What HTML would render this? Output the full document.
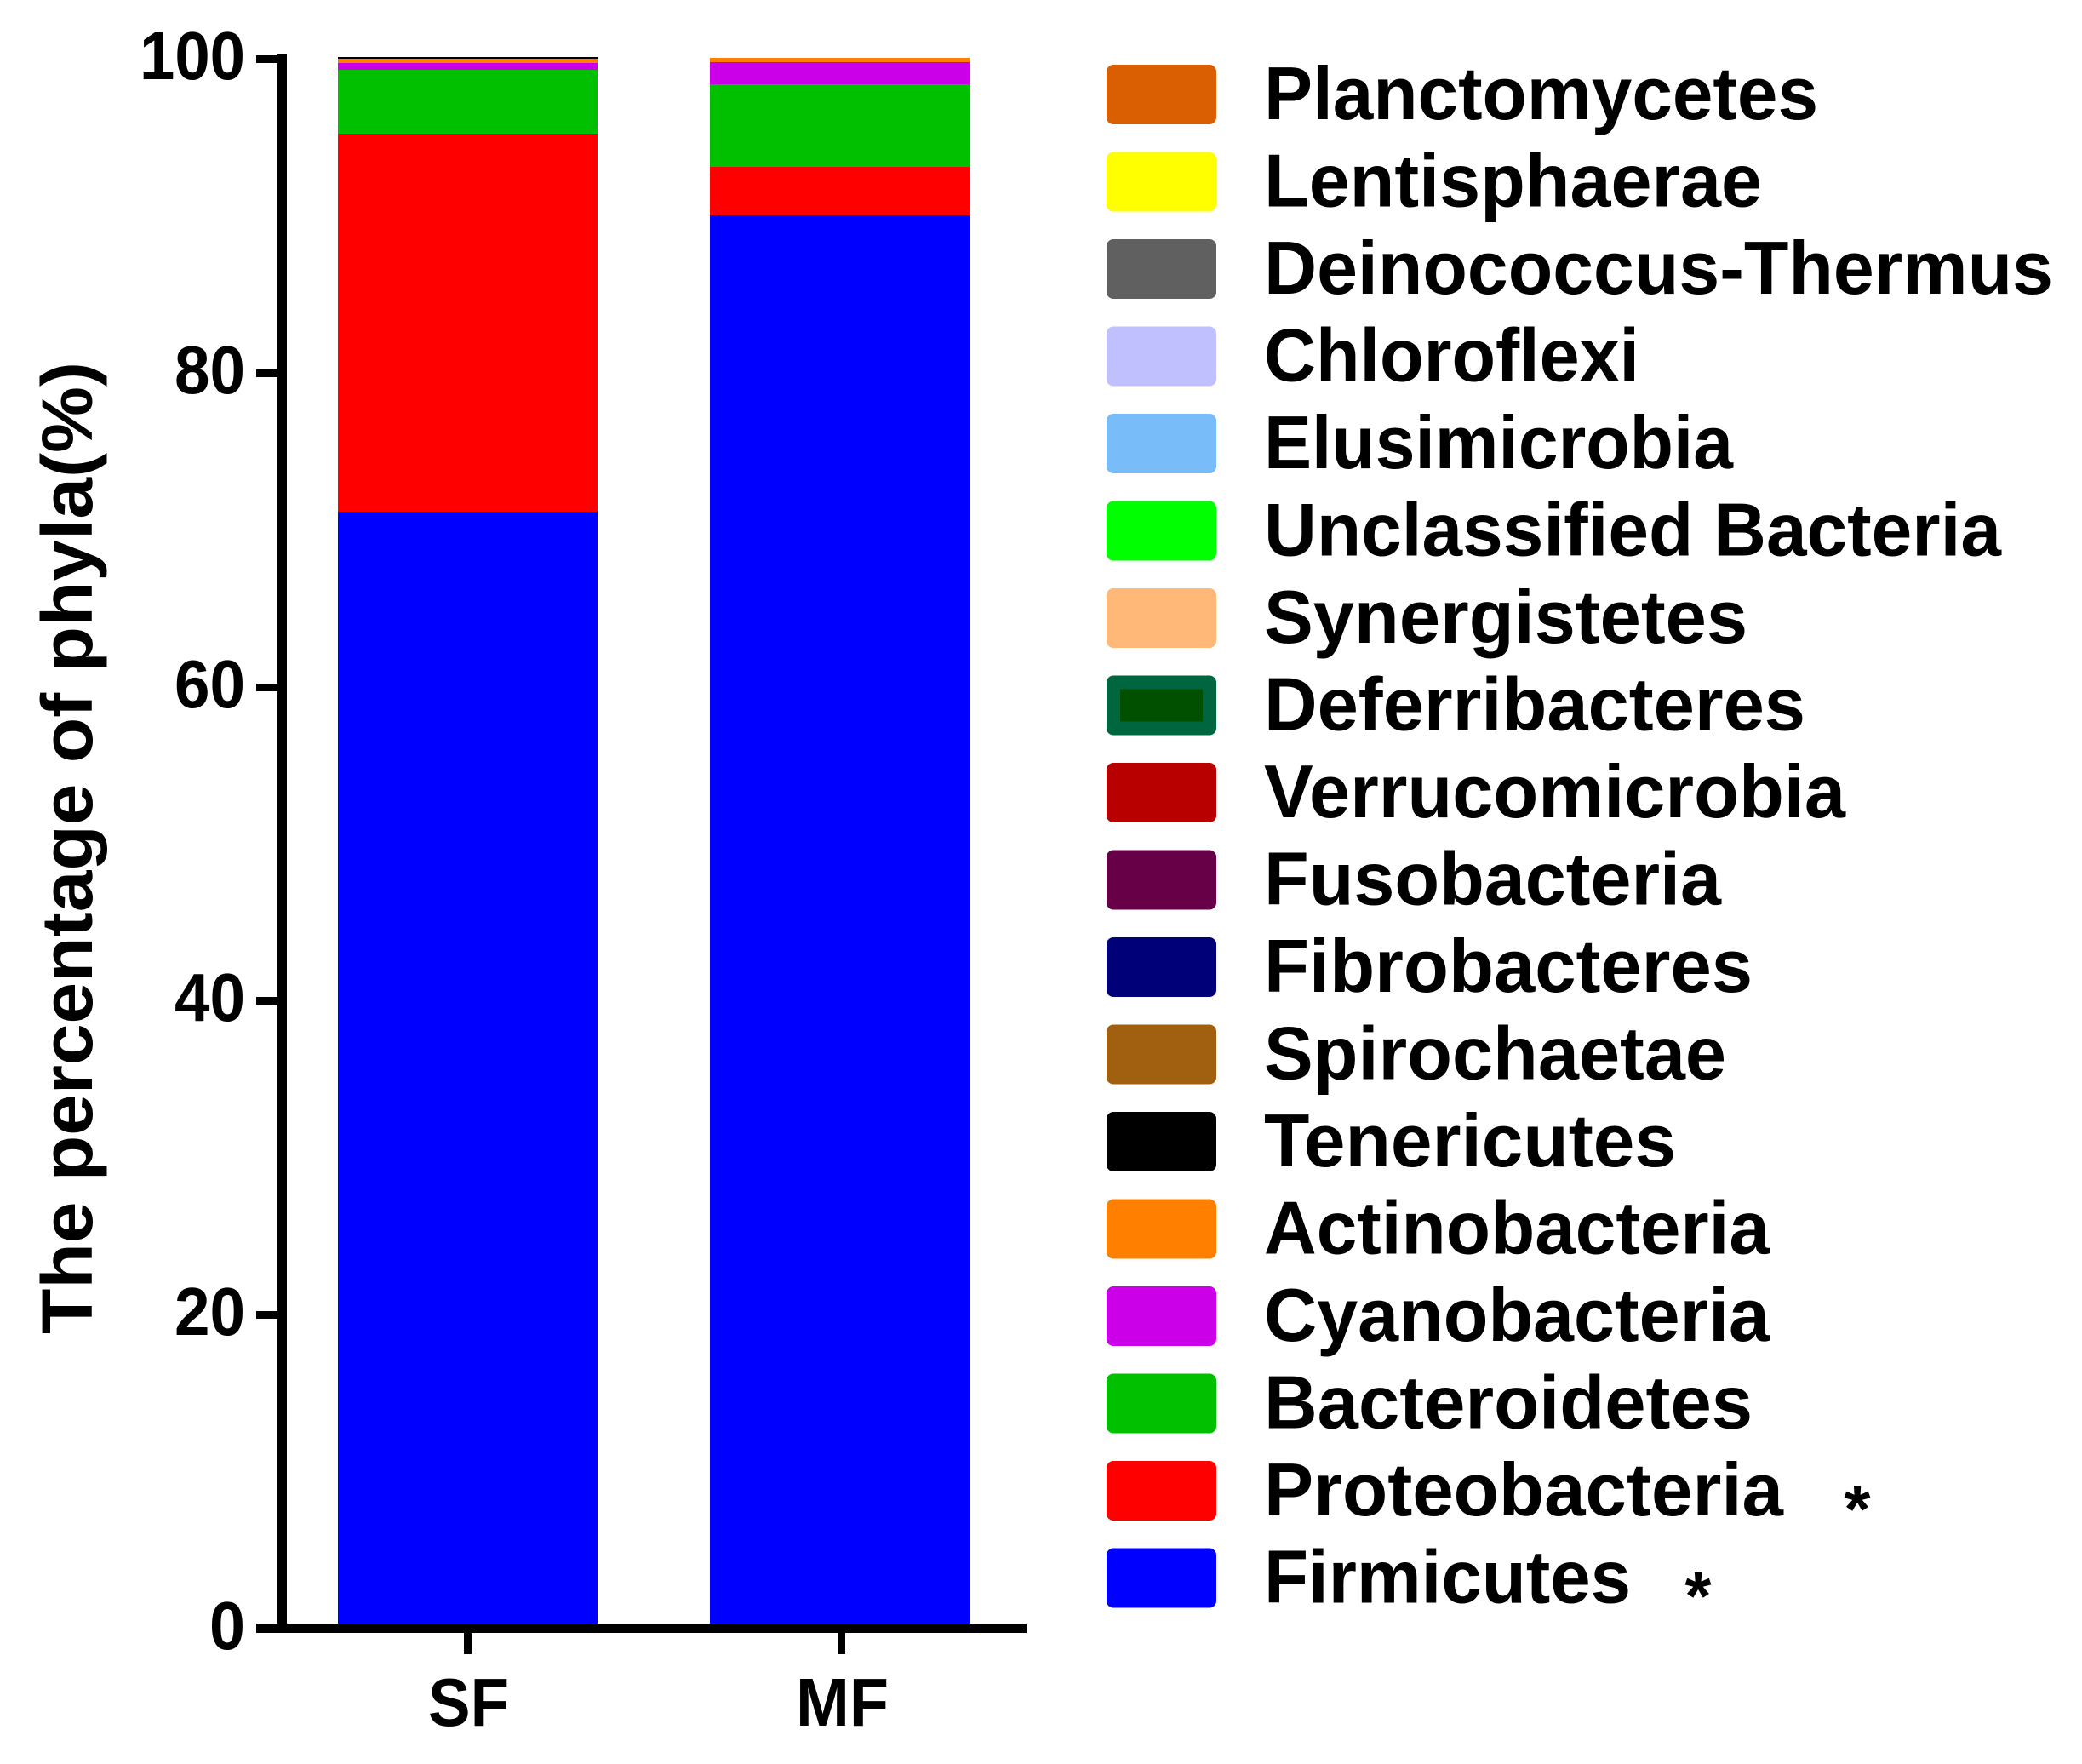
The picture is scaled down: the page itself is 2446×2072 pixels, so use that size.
<!DOCTYPE html>
<html><head><meta charset="utf-8"><style>html,body{margin:0;padding:0;background:#fff}svg{display:block}</style></head>
<body>
<svg width="2446" height="2072" viewBox="0 0 2446 2072" xmlns="http://www.w3.org/2000/svg" font-family="Liberation Sans, Arial, sans-serif" font-weight="bold">
<rect width="2446" height="2072" fill="#fff"/>
<!-- SF bar -->
<rect x="397" y="601" width="305" height="1311" fill="#0000ff"/>
<rect x="397" y="157" width="305" height="444" fill="#ff0000"/>
<rect x="397" y="82" width="305" height="75" fill="#00c000"/>
<rect x="397" y="74" width="305" height="8" fill="#cc00e8"/>
<rect x="397" y="69" width="305" height="5" fill="#ff8000"/>
<rect x="397" y="67" width="305" height="2" fill="#000"/>
<!-- MF bar -->
<rect x="834" y="253" width="305" height="1659" fill="#0000ff"/>
<rect x="834" y="196" width="305" height="57" fill="#ff0000"/>
<rect x="834" y="99" width="305" height="97" fill="#00c000"/>
<rect x="834" y="73" width="305" height="26" fill="#cc00e8"/>
<rect x="834" y="68" width="305" height="5" fill="#ff8000"/>
<!-- axes -->
<rect x="326" y="64" width="11" height="1854" fill="#000"/>
<rect x="301" y="1907" width="905" height="11" fill="#000"/>
<g fill="#000">
<rect x="301" y="65" width="30" height="9"/>
<rect x="301" y="434" width="30" height="9"/>
<rect x="301" y="803" width="30" height="9"/>
<rect x="301" y="1171" width="30" height="9"/>
<rect x="301" y="1540" width="30" height="9"/>
<rect x="545" y="1912" width="9" height="31"/>
<rect x="984" y="1912" width="9" height="31"/>
</g>
<g font-size="80" text-anchor="end" fill="#000">
<text x="288" y="93" textLength="124" lengthAdjust="spacingAndGlyphs">100</text>
<text x="288" y="462" textLength="83" lengthAdjust="spacingAndGlyphs">80</text>
<text x="288" y="831" textLength="83" lengthAdjust="spacingAndGlyphs">60</text>
<text x="288" y="1199" textLength="83" lengthAdjust="spacingAndGlyphs">40</text>
<text x="288" y="1568" textLength="83" lengthAdjust="spacingAndGlyphs">20</text>
<text x="288" y="1937" textLength="42" lengthAdjust="spacingAndGlyphs">0</text>
</g>
<g font-size="80" fill="#000">
<text x="503" y="2027" textLength="95" lengthAdjust="spacingAndGlyphs">SF</text>
<text x="935" y="2027" textLength="109" lengthAdjust="spacingAndGlyphs">MF</text>
</g>
<text transform="translate(108,1567) rotate(-90)" font-size="84" fill="#000" textLength="1142" lengthAdjust="spacingAndGlyphs">The percentage of phyla(%)</text>
<!-- legend -->
<g>
<rect x="1300" y="76" width="129" height="70" rx="8" fill="#d95f02"/>
<rect x="1300" y="178.5" width="129" height="70" rx="8" fill="#ffff00"/>
<rect x="1300" y="281" width="129" height="70" rx="8" fill="#606060"/>
<rect x="1300" y="383.5" width="129" height="70" rx="8" fill="#c0c0ff"/>
<rect x="1300" y="486" width="129" height="70" rx="8" fill="#78bdfa"/>
<rect x="1300" y="588.5" width="129" height="70" rx="8" fill="#00ff00"/>
<rect x="1300" y="691" width="129" height="70" rx="8" fill="#ffb878"/>
<rect x="1300" y="793.5" width="129" height="70" rx="8" fill="#006640"/>
<rect x="1316" y="809.5" width="97" height="38" fill="#005000"/>
<rect x="1300" y="896" width="129" height="70" rx="8" fill="#b80000"/>
<rect x="1300" y="998.5" width="129" height="70" rx="8" fill="#680048"/>
<rect x="1300" y="1101" width="129" height="70" rx="8" fill="#000078"/>
<rect x="1300" y="1203.5" width="129" height="70" rx="8" fill="#a06010"/>
<rect x="1300" y="1306" width="129" height="70" rx="8" fill="#000000"/>
<rect x="1300" y="1408.5" width="129" height="70" rx="8" fill="#ff8000"/>
<rect x="1300" y="1511" width="129" height="70" rx="8" fill="#cc00e8"/>
<rect x="1300" y="1613.5" width="129" height="70" rx="8" fill="#00c000"/>
<rect x="1300" y="1716" width="129" height="70" rx="8" fill="#ff0000"/>
<rect x="1300" y="1818.5" width="129" height="70" rx="8" fill="#0000ff"/>
</g>
<g font-size="88" fill="#000">
<text x="1485" y="140" textLength="651" lengthAdjust="spacingAndGlyphs">Planctomycetes</text>
<text x="1485" y="242.5" textLength="585" lengthAdjust="spacingAndGlyphs">Lentisphaerae</text>
<text x="1485" y="345" textLength="927" lengthAdjust="spacingAndGlyphs">Deinococcus-Thermus</text>
<text x="1485" y="447.5" textLength="441" lengthAdjust="spacingAndGlyphs">Chloroflexi</text>
<text x="1485" y="550" textLength="551" lengthAdjust="spacingAndGlyphs">Elusimicrobia</text>
<text x="1485" y="652.5" textLength="866" lengthAdjust="spacingAndGlyphs">Unclassified Bacteria</text>
<text x="1485" y="755" textLength="568" lengthAdjust="spacingAndGlyphs">Synergistetes</text>
<text x="1485" y="857.5" textLength="636" lengthAdjust="spacingAndGlyphs">Deferribacteres</text>
<text x="1485" y="960" textLength="683" lengthAdjust="spacingAndGlyphs">Verrucomicrobia</text>
<text x="1485" y="1062.5" textLength="537" lengthAdjust="spacingAndGlyphs">Fusobacteria</text>
<text x="1485" y="1165" textLength="574" lengthAdjust="spacingAndGlyphs">Fibrobacteres</text>
<text x="1485" y="1267.5" textLength="543" lengthAdjust="spacingAndGlyphs">Spirochaetae</text>
<text x="1485" y="1370" textLength="484" lengthAdjust="spacingAndGlyphs">Tenericutes</text>
<text x="1485" y="1472.5" textLength="594" lengthAdjust="spacingAndGlyphs">Actinobacteria</text>
<text x="1485" y="1575" textLength="594" lengthAdjust="spacingAndGlyphs">Cyanobacteria</text>
<text x="1485" y="1677.5" textLength="574" lengthAdjust="spacingAndGlyphs">Bacteroidetes</text>
<text x="1485" y="1780" textLength="610" lengthAdjust="spacingAndGlyphs">Proteobacteria</text>
<text x="1485" y="1882.5" textLength="431" lengthAdjust="spacingAndGlyphs">Firmicutes</text>
</g>
<g font-size="80" fill="#000" text-anchor="middle">
<text x="2182" y="1800">*</text>
<text x="1995" y="1902">*</text>
</g>
</svg>
</body></html>
